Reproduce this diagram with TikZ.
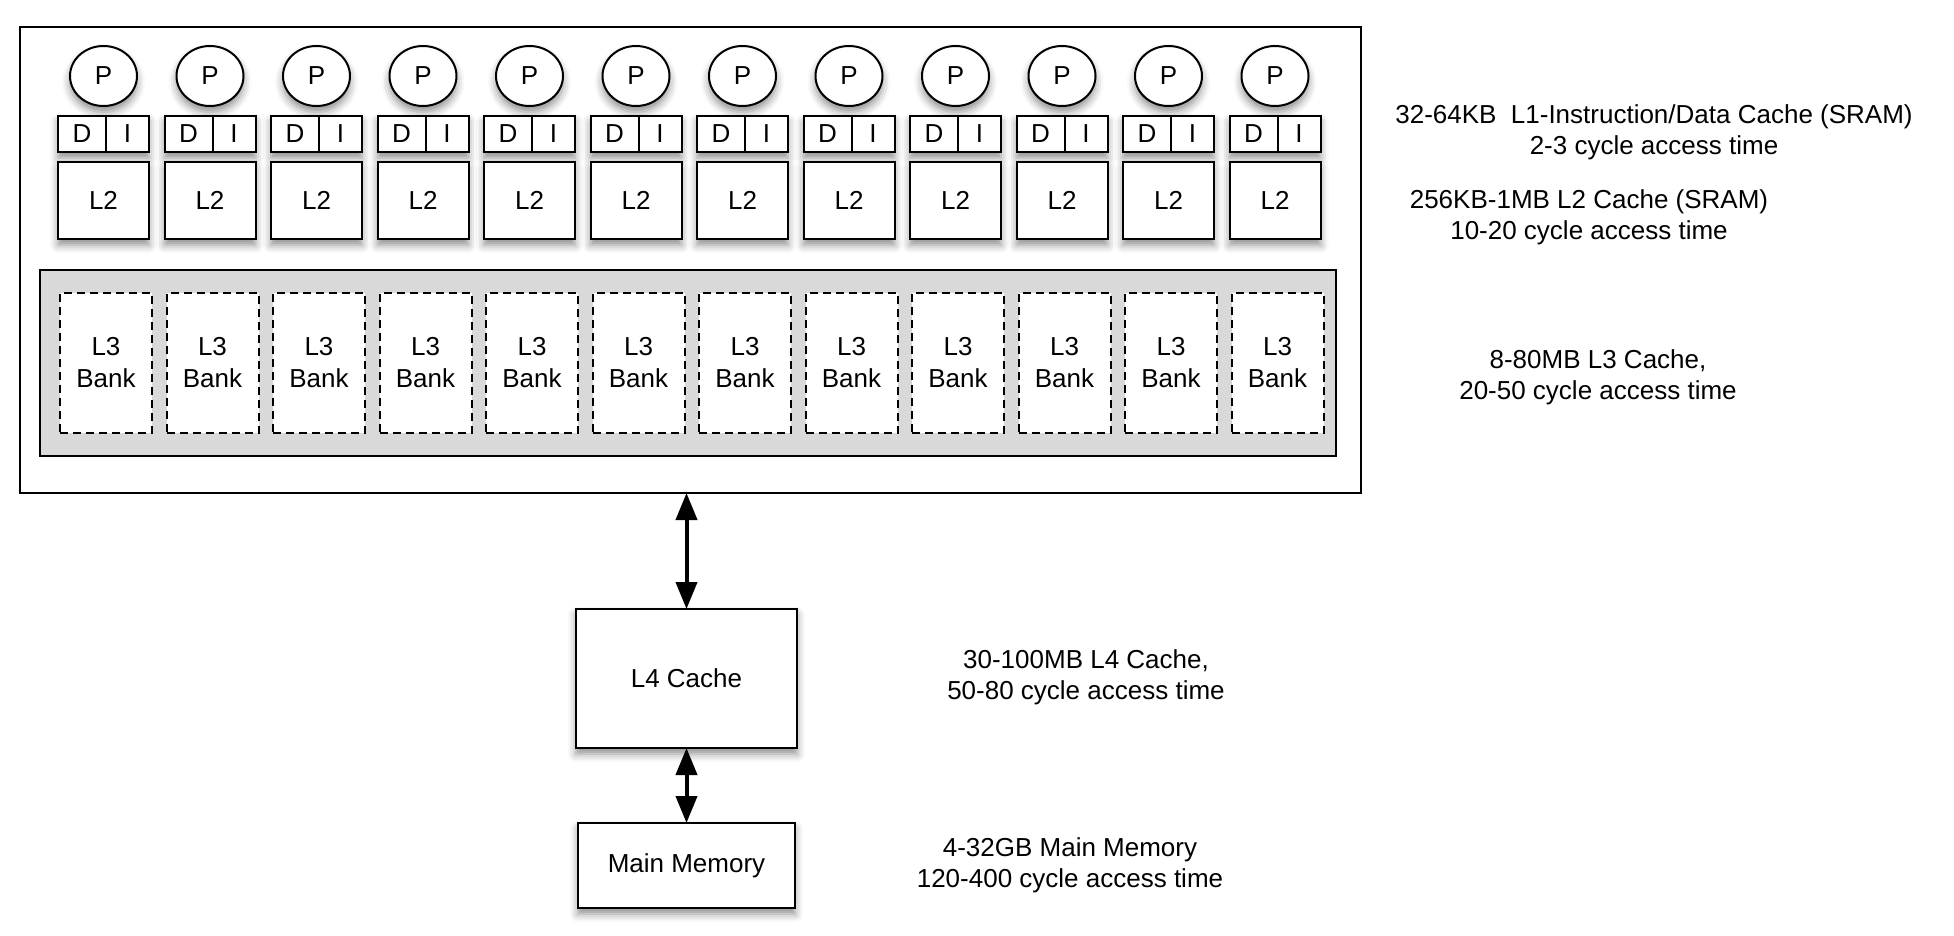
\documentclass[tikz,border=0pt]{standalone}
\usepackage{fontspec}
\setmainfont{Liberation Sans}
\usetikzlibrary{shapes.geometric,shadows.blur,arrows.meta,positioning}
\def\pitch{106.5}
\definecolor{bankgray}{gray}{0.85}

\begin{document}
\begin{tikzpicture}[x=0.5pt,y=-0.5pt,line width=1pt,
	font=\fontsize{13}{15.5}\selectfont,
	shade/.style={blur shadow={shadow xshift=0pt,shadow yshift=-3pt,shadow blur radius=4pt,shadow opacity=45}},
	box/.style={draw,fill=white,inner sep=0pt,outer sep=0pt},
	proc/.style={box,ellipse,minimum width=33.5pt,minimum height=30pt,shade},
	half/.style={box,minimum height=18pt},
	bank/.style={box,dash pattern=on 4pt off 2.5pt,minimum width=46pt,minimum height=70pt,align=center,font=\fontsize{13}{16}\selectfont},
	note/.style={align=center},
	dbl/.style={{Triangle[length=13.5pt,width=10.5pt]}-{Triangle[length=13.5pt,width=10.5pt]},line width=2pt}]
\useasboundingbox (0,0) rectangle (1954,936);
\node[draw,minimum width=670.5pt,minimum height=233pt,outer sep=0pt] (chip) at (690.5,260) {};
\node[draw,fill=bankgray,minimum width=648pt,minimum height=93pt] (l3) at (688,363) {};
\foreach \i in {0,...,11}{
	\node[proc] (proc\i) at ({103.5+\i*\pitch},76) {P};
	\node[half,minimum width=45.5pt,shade] (di\i) at ({103.5+\i*\pitch},134) {};
	\node[half,minimum width=24pt,anchor=west] (d\i) at (di\i.west) {D};
	\node[half,minimum width=21.5pt,right=0pt of d\i] (in\i) {I};
	\node[box,shade,minimum width=45.5pt,minimum height=38.5pt] (ltwo\i) at ({103.5+\i*\pitch},200.5) {L2};
	\node[bank] (bank\i) at ({106+\i*\pitch},363) {L3\\Bank};
}
\node[box,shade,minimum width=110.5pt,minimum height=69.5pt] (l4) at (686.5,678.5) {L4 Cache};
\node[box,shade,minimum width=108.5pt,minimum height=42.5pt] (mem) at (686.5,865.5) {Main Memory};
\draw[dbl] (chip.south -| l4.north) -- (l4.north);
\draw[dbl] (l4) -- (mem);
\node[note] (t1) at (1654,132.5) {32-64KB\ \ L1-Instruction/Data Cache (SRAM)\\2-3 cycle access time};
\node[note] (t2) at (1589,217) {256KB-1MB L2 Cache (SRAM)\\10-20 cycle access time};
\node[note] (t3) at (1598,377) {8-80MB L3 Cache,\\20-50 cycle access time};
\node[note] (t4) at (1086,677.5) {30-100MB L4 Cache,\\50-80 cycle access time};
\node[note] (t5) at (1070,865) {4-32GB Main Memory\\120-400 cycle access time};
\end{tikzpicture}
\end{document}
